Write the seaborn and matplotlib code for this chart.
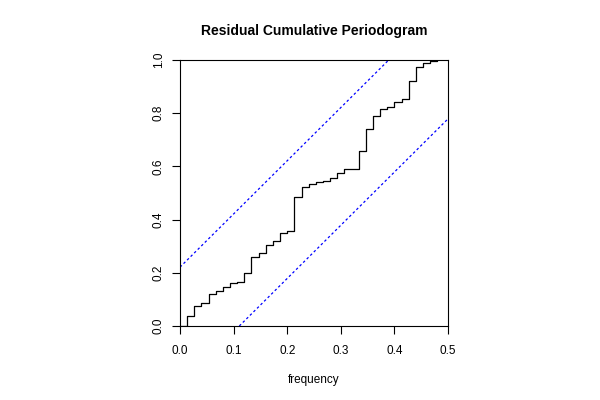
import numpy as np
import pandas as pd
import seaborn as sns
import matplotlib
matplotlib.use("Agg")
import matplotlib.pyplot as plt

# cumulative periodogram of residuals, n = 75 obs -> 37 Fourier frequencies
n_obs = 75
cum_pgram = [0.0, 0.0376, 0.0764, 0.0852, 0.119, 0.1316, 0.1454, 0.1604, 0.1667,
             0.1992, 0.2581, 0.2732, 0.3033, 0.3183, 0.3496, 0.3559, 0.4837,
             0.5213, 0.5326, 0.5395, 0.545, 0.555, 0.574, 0.589, 0.589, 0.658,
             0.742, 0.788, 0.817, 0.822, 0.841, 0.852, 0.921, 0.975, 0.988,
             0.996, 1.0]
freq = np.arange(len(cum_pgram)) / n_obs
x_ticks = [0.0, 0.1, 0.2, 0.3, 0.4, 0.5]
y_ticks = [0.0, 0.2, 0.4, 0.6, 0.8, 1.0]

# Kolmogorov-Smirnov band like R's cpgram
xm = 0.5
mp = len(cum_pgram) - 1
crit = 1.358 / (np.sqrt(mp) + 0.12 + 0.11 / np.sqrt(mp))

sns.set_style("white")
plt.rcParams['font.family'] = ['Liberation Sans', 'DejaVu Sans']
plt.rcParams['text.color'] = 'black'
plt.rcParams['axes.labelcolor'] = 'black'
plt.rcParams['xtick.color'] = 'black'
plt.rcParams['ytick.color'] = 'black'

df = pd.DataFrame({"frequency": freq, "cp": cum_pgram})

fig = plt.figure(figsize=(6, 4), dpi=100)
ax = fig.add_axes([0.3, 0.185, 0.4467, 0.665])

sns.lineplot(data=df, x="frequency", y="cp", ax=ax, color="black",
             linewidth=0.9, drawstyle="steps-post", estimator=None)
ax.plot([0, xm * (1 - crit)], [crit, 1], color="blue", linestyle=(0, (2, 2)), linewidth=0.9)
ax.plot([xm * crit, xm], [0, 1 - crit], color="blue", linestyle=(0, (2, 2)), linewidth=0.9)

ax.set_xlim(0, 0.5)
ax.set_ylim(0, 1)
ax.set_xticks(x_ticks)
ax.set_yticks(y_ticks)
ax.set_xticklabels([f"{v:.1f}" for v in x_ticks])
ax.set_yticklabels([f"{v:.1f}" for v in y_ticks], rotation=90, va="center")
ax.tick_params(direction="out", length=6, width=0.8, labelsize=8.5,
               bottom=True, left=True)
ax.tick_params(axis="x", pad=8)
ax.tick_params(axis="y", pad=5)
for sp in ax.spines.values():
    sp.set_color("black")
    sp.set_linewidth(0.8)

ax.set_xlabel("frequency", fontsize=8.5, labelpad=12)
ax.set_ylabel("")
ax.set_title("Residual Cumulative Periodogram", fontsize=10, fontweight="bold", pad=18)

fig.savefig("out.png", dpi=100)
